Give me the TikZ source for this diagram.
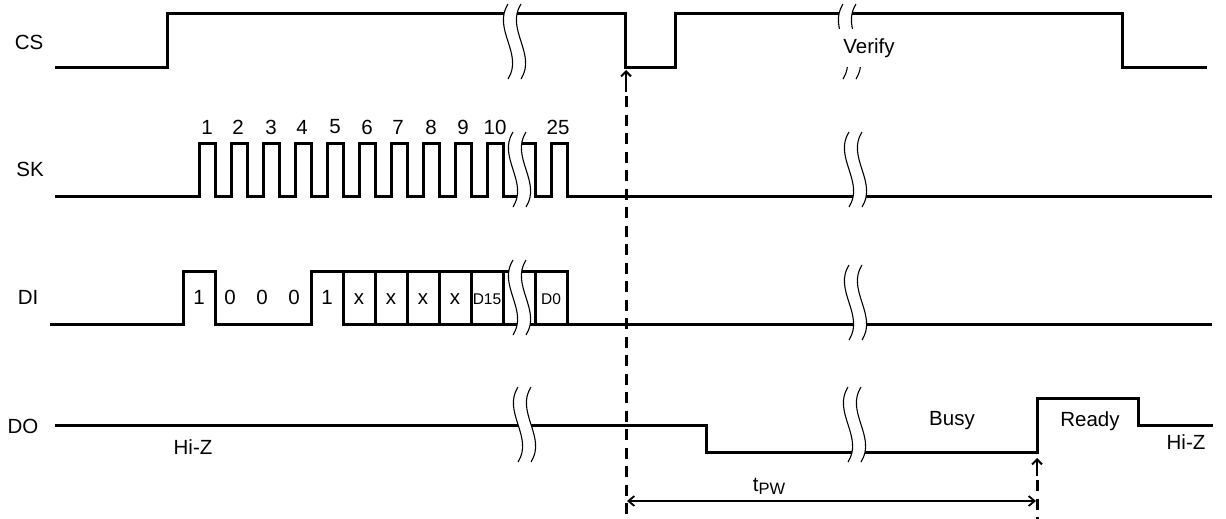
\documentclass[tikz,border=0pt]{standalone}
\usepackage{fontspec}
\setmainfont{Liberation Sans}
\usepackage{tikz}
\usetikzlibrary{calc,arrows.meta}
\tikzset{
  wave/.style={line width=3pt,line join=miter},
  cut/.style={line width=1.1pt},
  lbl/.style={inner sep=0pt,font=\fontsize{20.5}{22}\selectfont},
  tiny lbl/.style={inner sep=0pt,font=\fontsize{15.5}{17}\selectfont},
  guide/.style={line width=3pt,dash pattern=on 11pt off 7.5pt},
  tip/.style={line width=2pt,-{Straight Barb[length=5pt,width=10pt]}},
  dim/.style={line width=1.8pt,{Straight Barb[length=6pt,width=10pt]}-{Straight Barb[length=6pt,width=10pt]}}
}
\newcommand{\wavecut}[2]{
\fill[white] (#1,#2) .. controls (#1-16,#2+25) and (#1+16,#2+50) .. (#1,#2+75)
  -- (#1+13,#2+75) .. controls (#1+29,#2+50) and (#1-3,#2+25) .. (#1+13,#2) -- cycle;
\draw[cut] (#1,#2) .. controls (#1-16,#2+25) and (#1+16,#2+50) .. (#1,#2+75);
\draw[cut] (#1+13,#2) .. controls (#1-3,#2+25) and (#1+29,#2+50) .. (#1+13,#2+75);
}
\begin{document}
\begin{tikzpicture}[x=1pt,y=-1pt]
\useasboundingbox (0,0) rectangle (1226,519);
\draw[wave] (55,68)--(167,68)--(167,14)--(625,14)--(625,68)--(675,68)--(675,14)--(1122,14)--(1122,68)--(1207,68);
\draw[wave] (55,196)--(199,196)--(199,143)--(215,143)--(215,196)--(231,196)--(231,143)--(247,143)--(247,196)
  --(263,196)--(263,143)--(279,143)--(279,196)--(295,196)--(295,143)--(311,143)--(311,196)
  --(327,196)--(327,143)--(343,143)--(343,196)--(359,196)--(359,143)--(375,143)--(375,196)
  --(391,196)--(391,143)--(407,143)--(407,196)--(423,196)--(423,143)--(439,143)--(439,196)
  --(455,196)--(455,143)--(471,143)--(471,196)--(487,196)--(487,143)--(503,143)--(503,196)
  --(519,196)--(519,143)--(535,143)--(535,196)--(551,196)--(551,143)--(567,143)--(567,196)--(1212,196);
\draw[wave] (50,324)--(183,324)--(183,271)--(215,271)--(215,324)--(311,324)--(311,271)--(567,271)--(567,324)--(1212,324);
\draw[wave] (343,271)--(343,324)--(567,324);
\draw[wave] (375,271)--(375,324);
\draw[wave] (407,271)--(407,324);
\draw[wave] (439,271)--(439,324);
\draw[wave] (471,271)--(471,324);
\draw[wave] (503,271)--(503,324);
\draw[wave] (535,271)--(535,324);
\draw[wave] (55,425)--(706,425)--(706,452)--(1037,452)--(1037,398)--(1138,398)--(1138,425)--(1213,425);
\wavecut{508}{4}
\wavecut{513}{132}
\wavecut{513}{260}
\wavecut{518}{387}
\wavecut{843}{4}
\wavecut{849}{132}
\wavecut{849}{265}
\wavecut{848}{387}
\coordinate (cslow) at (626,70);
\coordinate (csstem) at (626,92);
\coordinate (csguide) at (626,96);
\coordinate (guidea) at (626,514);
\coordinate (busyend) at (1037,458);
\coordinate (busystem) at (1037,476);
\coordinate (busyguide) at (1037,480);
\coordinate (guideb) at (1037,519);
\coordinate (dimleft) at (627,501);
\coordinate (dimright) at (1036,501);
\draw[guide] (csguide)--(guidea);
\draw[guide] (busyguide)--(guideb);
\draw[tip] (csstem)--(cslow);
\draw[tip] (busystem)--(busyend);
\draw[dim] (dimleft)--(dimright);
\node[lbl] (cs) at (29,42){CS};
\node[lbl] (sk) at (30,169){SK};
\node[lbl] (di) at (28,297){DI};
\node[lbl] (do) at (23,426){DO};
\node[lbl,fill=white,inner xsep=6pt,minimum height=38pt] (verify) at (869,48){Verify};
\node[lbl] (n1) at (207,127){1};
\node[lbl] (n2) at (238,127){2};
\node[lbl] (n3) at (271,127){3};
\node[lbl] (n4) at (302,127){4};
\node[lbl] (n5) at (335,127){5};
\node[lbl] (n6) at (367,127){6};
\node[lbl] (n7) at (398,127){7};
\node[lbl] (n8) at (431,127){8};
\node[lbl] (n9) at (463,127){9};
\node[lbl] (n10) at (495,127){10};
\node[lbl] (n25) at (558,127){25};
\node[lbl] (d1) at (199,297){1};
\node[lbl] (d2) at (230,297){0};
\node[lbl] (d3) at (262,297){0};
\node[lbl] (d4) at (294,297){0};
\node[lbl] (d5) at (327,297){1};
\node[lbl] (d6) at (359,299){x};
\node[lbl] (d7) at (391,299){x};
\node[lbl] (d8) at (423,299){x};
\node[lbl] (d9) at (455,299){x};
\node[tiny lbl] (d15) at (487,299){D15};
\node[tiny lbl] (d0) at (551,299){D0};
\node[lbl] (hizl) at (193,447){Hi-Z};
\node[lbl] (busy) at (952,421){Busy};
\node[lbl] (ready) at (1090,421){Ready};
\node[lbl] (hizr) at (1186,442){Hi-Z};
\node[lbl] (tpw) at (769,486){t\raisebox{-3pt}{\fontsize{16.5}{18}\selectfont PW}};
\end{tikzpicture}
\end{document}
